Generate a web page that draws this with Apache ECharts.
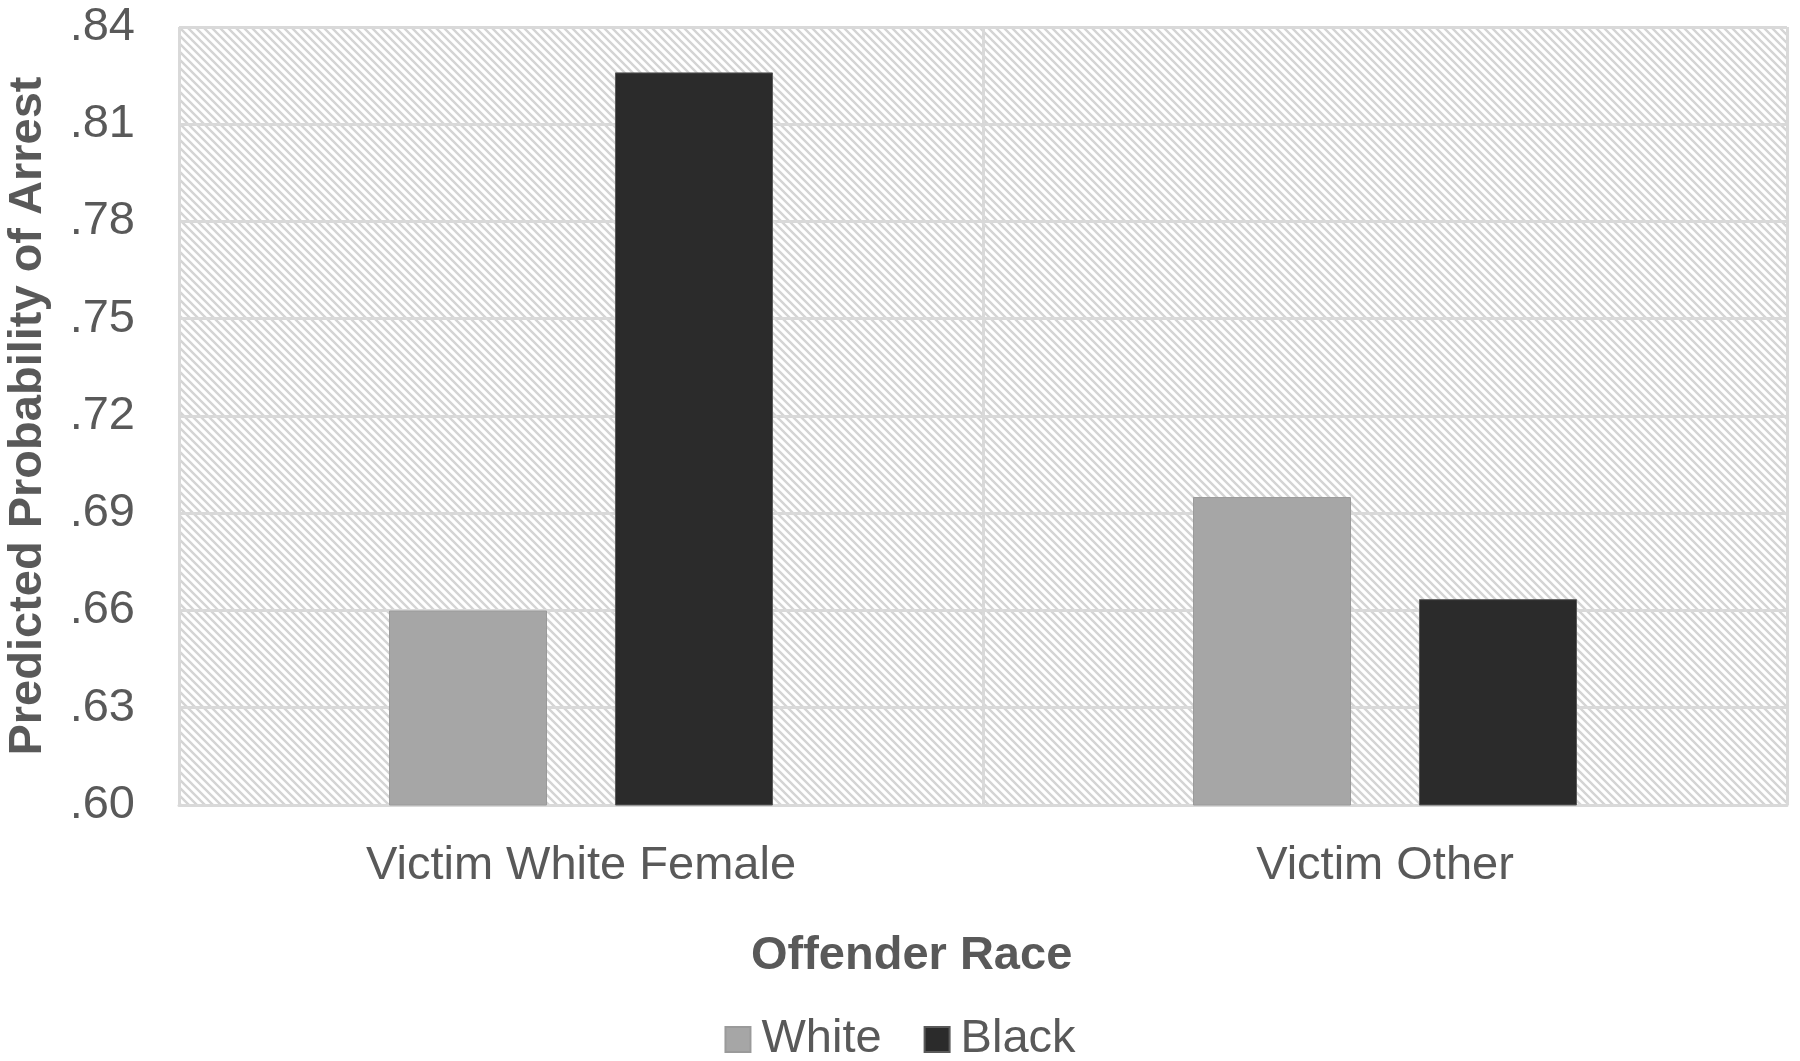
<!DOCTYPE html>
<html>
<head>
<meta charset="utf-8">
<script src="https://cdn.jsdelivr.net/npm/echarts@6/dist/echarts.min.js"></script>
<style>
  html, body { margin: 0; padding: 0; background: #fff; }
  #chart { width: 1800px; height: 1061px; }
</style>
</head>
<body>
<div id="chart"></div>
<script>
// Categories and values
var categories = ['Victim White Female', 'Victim Other'];
var whiteValues = [0.660, 0.695];
var blackValues = [0.826, 0.6635];
var seriesNames = ['White', 'Black'];

// Diagonal hatch used as the plot background
function makeHatch() {
  var size = 8;
  var c = document.createElement('canvas');
  c.width = size; c.height = size;
  var ctx = c.getContext('2d');
  ctx.fillStyle = '#ffffff';
  ctx.fillRect(0, 0, size, size);
  ctx.strokeStyle = '#d4d4d4';
  ctx.lineWidth = 2.4;
  ctx.beginPath();
  ctx.moveTo(-2, -2); ctx.lineTo(size + 2, size + 2);
  ctx.moveTo(-2 - size, -2); ctx.lineTo(2, size + 2);
  ctx.moveTo(size - 2, -2); ctx.lineTo(2 * size + 2, size + 2);
  ctx.stroke();
  return c;
}

var chart = echarts.init(document.getElementById('chart'));
var textColor = '#595959';
var font = 'Liberation Sans, Arial, sans-serif';

chart.setOption({
  backgroundColor: '#ffffff',
  animation: false,
  title: {
    text: 'Offender Race',
    left: 746,
    top: 928,
    textStyle: { color: textColor, fontSize: 47, fontWeight: 'bold', fontFamily: font }
  },
  legend: {
    data: seriesNames,
    left: 'center',
    top: 1011,
    icon: 'rect',
    itemWidth: 25,
    itemHeight: 25,
    itemGap: 42,
    textStyle: { color: textColor, fontSize: 47, fontFamily: font, padding: [0, 0, 0, 6] }
  },
  grid: {
    left: 179,
    right: 13,
    top: 27,
    bottom: 256,
    outerBoundsMode: 'none',
    containLabel: false,
    show: true,
    borderWidth: 0,
    backgroundColor: { image: makeHatch(), repeat: 'repeat' }
  },
  xAxis: {
    type: 'category',
    data: categories,
    axisLine: { show: true, lineStyle: { color: '#d9d9d9', width: 3 } },
    axisTick: { show: false },
    splitLine: { show: true, lineStyle: { color: '#d9d9d9', width: 3 } },
    axisLabel: { color: textColor, fontSize: 47, fontFamily: font, margin: 38 }
  },
  yAxis: {
    type: 'value',
    min: 0.6,
    max: 0.84,
    interval: 0.03,
    name: 'Predicted Probability of Arrest',
    nameLocation: 'middle',
    nameRotate: 90,
    nameGap: 127,
    nameTextStyle: { color: textColor, fontSize: 47, fontWeight: 'bold', fontFamily: font },
    axisLine: { show: false },
    axisTick: { show: false },
    splitLine: { show: true, lineStyle: { color: '#d9d9d9', width: 3 } },
    axisLabel: {
      color: textColor,
      fontSize: 47,
      fontFamily: font,
      margin: 44,
      formatter: function (v) { return v.toFixed(2).replace(/^0/, ''); }
    }
  },
  series: [
    {
      name: seriesNames[0],
      type: 'bar',
      data: whiteValues,
      barWidth: 158,
      barGap: '43%',
      itemStyle: { color: '#a6a6a6', borderColor: '#9a9a9a', borderWidth: 1 }
    },
    {
      name: seriesNames[1],
      type: 'bar',
      data: blackValues,
      barWidth: 158,
      barGap: '43%',
      itemStyle: { color: '#2b2b2b', borderColor: '#5a5a5a', borderWidth: 1 }
    }
  ]
});
</script>
</body>
</html>
